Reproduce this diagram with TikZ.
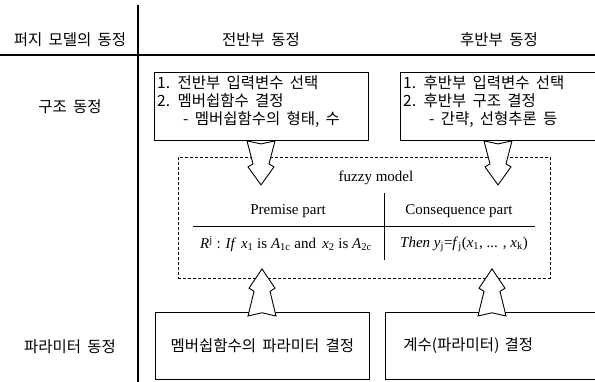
\documentclass[tikz,border=0pt]{standalone}
\usepackage{fontspec}
\setmainfont{Liberation Serif}
\newfontfamily\kr[WordSpace=1.8]{Noto Sans CJK KR}
\usetikzlibrary{calc}
\usetikzlibrary{shapes}
\tikzset{
  krtext/.style={font=\kr\fontsize{15.5}{18}\selectfont, inner sep=0pt},
  entext/.style={font=\fontsize{15}{18}\selectfont, inner sep=0pt},
  stepbox/.style={draw, line width=0.9pt, anchor=north west, inner sep=0pt},
  blockarrow/.style={draw, line width=0.9pt, fill=white, line join=miter}
}
\newcommand{\fatarrow}[2]{\draw[blockarrow, shift={(#1)}, yscale=#2] (-14,0) -- (0,3) -- (14,0) -- (8,23) -- (13,26) -- (0,44) -- (-13,26) -- (-8,23) -- cycle;}

\begin{document}
\begin{tikzpicture}[x=1pt,y=-1pt]
        \useasboundingbox (0,0) rectangle (595,382);
        \clip (0,0) rectangle (595,382);
        % header grid
        \draw[line width=1.1pt] (0,55) -- (595,55);
        \draw[line width=1.1pt] (138,5) -- (138,382);
        % headers
        \node[krtext] (hdrModel) at (70,40) {퍼지 모델의 동정};
        \node[krtext] (hdrPrem) at (261,40) {전반부 동정};
        \node[krtext] (hdrCons) at (499,40) {후반부 동정};
        % row labels
        \node[krtext] (lblStruct) at (70,107) {구조 동정};
        \node[krtext] (lblParam) at (70,347) {파라미터 동정};
        % structure boxes
        \node[stepbox, minimum width=214pt, minimum height=68pt] (premStruct) at (154,72) {};
        \node[krtext, anchor=north west, align=left] (premStructText) at ($(premStruct.north west)+(3,3)$)
            {1. 전반부 입력변수 선택\\2. 멤버쉽함수 결정\\\hspace{26pt}- 멤버쉽함수의 형태, 수};
        \node[stepbox, minimum width=220pt, minimum height=68pt] (consStruct) at (400,72) {};
        \node[krtext, anchor=north west, align=left] (consStructText) at ($(consStruct.north west)+(3,3)$)
            {1. 후반부 입력변수 선택\\2. 후반부 구조 결정\\\hspace{26pt}- 간략, 선형추론 등};
        % fuzzy model
        \node[draw, line width=0.8pt, dash pattern=on 3pt off 2pt, anchor=north west, inner sep=0pt,
            minimum width=372pt, minimum height=121pt] (fuzzy) at (178,157) {};
        \node[entext] (fuzzyTitle) at (376,178) {fuzzy model};
        \node[entext] (premHead) at (288,211) {Premise part};
        \node[entext] (consHead) at (459,211) {Consequence part};
        \node[entext] (premRule) at (286,244)
            {\textit{R}\textsuperscript{j} : \textit{If \,x}\textsubscript{1} is \textit{A}\textsubscript{1c} and \,\textit{x}\textsubscript{2} is \textit{A}\textsubscript{2c}};
        \node[entext] (consRule) at (464,244)
            {\textit{Then y}\textsubscript{j}=\textit{f}\textsubscript{j}(\textit{x}\textsubscript{1}, ... , \textit{x}\textsubscript{k})};
        \coordinate (ruleL) at (193,226);
        \coordinate (ruleR) at (535,226);
        \coordinate (colT) at (384,193);
        \coordinate (colB) at (384,260);
        \draw[line width=0.9pt] (ruleL) -- (ruleR);
        \draw[line width=0.9pt] (colT) -- (colB);
        % parameter boxes
        \node[stepbox, krtext, minimum width=214pt, minimum height=67pt] (premParam) at (155,312) {멤버쉽함수의 파라미터 결정};
        \node[stepbox, krtext, align=left, text width=195pt, inner xsep=18pt, minimum height=67pt] (consParam) at (385,312) {계수(파라미터) 결정};
        % arrows
        \fatarrow{$(premStruct.south west)+(107,0)$}{1}
        \fatarrow{$(consStruct.south west)+(98,0)$}{1}
        \fatarrow{$(premParam.north west)+(107,4)$}{-1.07}
        \fatarrow{$(consParam.north west)+(107,4)$}{-1.07}
    \end{tikzpicture}
\end{document}
